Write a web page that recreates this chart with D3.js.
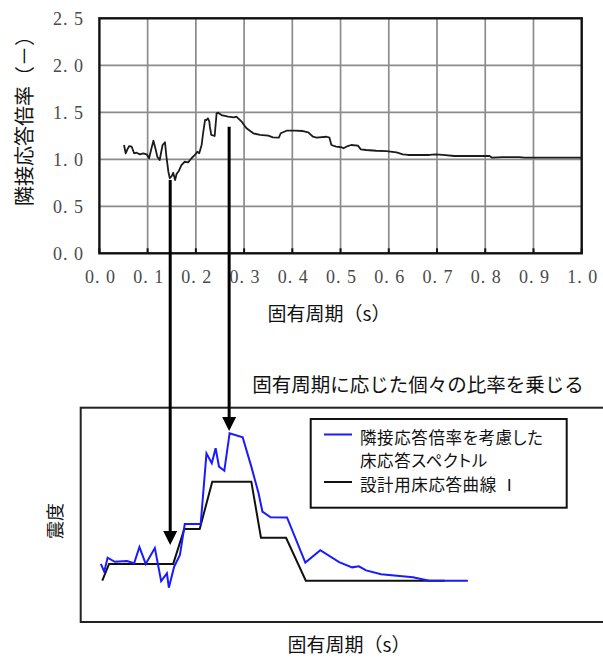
<!DOCTYPE html>
<html>
<head>
<meta charset="utf-8">
<script src="https://cdn.jsdelivr.net/npm/d3@7"></script>
<style>
  body { margin: 0; background: #fff; }
  .jp { font-family: "Noto Sans CJK JP", "Noto Sans", sans-serif; fill: #111; }
  .palt { font-feature-settings: "palt"; }
  .tick-label { font-family: "Liberation Serif", "DejaVu Serif", serif; fill: #4a4a4a; font-size: 18px; letter-spacing: 1px; }
</style>
</head>
<body>
<div id="chart"></div>
<script>
// --- data ---
const xTicks = [0, 0.1, 0.2, 0.3, 0.4, 0.5, 0.6, 0.7, 0.8, 0.9, 1.0];
const xTickLabels = ["0. 0", "0. 1", "0. 2", "0. 3", "0. 4", "0. 5", "0. 6", "0. 7", "0. 8", "0. 9", "1. 0"];
const yTicks = [0, 0.5, 1.0, 1.5, 2.0, 2.5];
const yTickLabels = ["0. 0", "0. 5", "1. 0", "1. 5", "2. 0", "2. 5"];

// adjacent response ratio (top chart)
const topPeriod = [0.051, 0.0545, 0.058, 0.062, 0.067, 0.072, 0.077, 0.084, 0.091, 0.098, 0.103, 0.108, 0.112, 0.117, 0.120, 0.125,
  0.131, 0.136, 0.139, 0.143, 0.146, 0.150, 0.153, 0.157, 0.160, 0.165, 0.170, 0.177, 0.184, 0.191, 0.198, 0.203, 0.207,
  0.212, 0.215, 0.219, 0.222, 0.225, 0.228, 0.229, 0.232, 0.239, 0.243, 0.246, 0.253, 0.267, 0.279, 0.284, 0.295, 0.305,
  0.319, 0.333, 0.350, 0.360, 0.372, 0.376, 0.388, 0.405, 0.422, 0.433, 0.443, 0.450, 0.471, 0.477, 0.481, 0.491, 0.502,
  0.506, 0.515, 0.522, 0.536, 0.542, 0.553, 0.574, 0.595, 0.616, 0.629, 0.640, 0.684, 0.698, 0.712, 0.736, 0.809, 0.814,
  0.836, 0.871, 0.881, 1.0];
const topRatio = [1.152, 1.064, 1.106, 1.141, 1.134, 1.064, 1.070, 1.053, 1.064, 1.053, 1.011, 1.117, 1.198, 1.099, 1.028, 0.993,
  1.152, 1.181, 1.028, 0.868, 0.798, 0.822, 0.857, 0.780, 0.844, 0.879, 0.939, 0.974, 0.968, 1.011, 1.046, 1.081, 1.064,
  1.152, 1.277, 1.418, 1.418, 1.436, 1.400, 1.347, 1.259, 1.248, 1.489, 1.496, 1.471, 1.453, 1.447, 1.453, 1.400, 1.330,
  1.277, 1.259, 1.251, 1.234, 1.230, 1.277, 1.304, 1.304, 1.301, 1.287, 1.240, 1.230, 1.240, 1.230, 1.152, 1.134, 1.128,
  1.117, 1.141, 1.152, 1.145, 1.106, 1.099, 1.091, 1.088, 1.074, 1.053, 1.046, 1.046, 1.053, 1.046, 1.035, 1.035, 1.017,
  1.024, 1.024, 1.017, 1.017];

// design floor response curve I (bottom chart, relative intensity)
const designPeriod = [0.006, 0.020, 0.153, 0.176, 0.208, 0.234, 0.315, 0.335, 0.387, 0.428, 0.716];
const designValue = [0.193, 0.271, 0.271, 0.434, 0.434, 0.655, 0.655, 0.393, 0.393, 0.193, 0.193];

// floor response spectrum with adjacent ratio applied
const adjPeriod = [0.003, 0.010, 0.017, 0.032, 0.057, 0.072, 0.083, 0.096, 0.115, 0.128, 0.140, 0.144, 0.155, 0.167, 0.177,
  0.210, 0.222, 0.233, 0.241, 0.248, 0.259, 0.270, 0.297, 0.315, 0.330, 0.338, 0.355, 0.389, 0.427, 0.458, 0.497, 0.524,
  0.538, 0.553, 0.584, 0.650, 0.684, 0.764];
const adjValue = [0.271, 0.235, 0.300, 0.281, 0.285, 0.274, 0.350, 0.271, 0.345, 0.191, 0.227, 0.160, 0.258, 0.313, 0.457,
  0.457, 0.787, 0.741, 0.811, 0.725, 0.706, 0.881, 0.862, 0.725, 0.601, 0.515, 0.489, 0.488, 0.277, 0.335, 0.279, 0.255,
  0.260, 0.241, 0.223, 0.209, 0.193, 0.193];

// arrows: period, start ratio (top), tip intensity (bottom)
const arrowPeriod = [0.1468, 0.269];
const arrowFrom = [0.78, 1.347];
const arrowTo = [0.359, 0.891];

const legendLabels = [["隣接応答倍率を考慮した", "床応答スペクトル"], ["設計用床応答曲線 Ⅰ"]];
const legendColors = ["#1a1aff", "#111"];

// --- drawing ---
const width = 603, height = 659;
const svg = d3.select("#chart").append("svg")
    .attr("width", width)
    .attr("height", height);

const x = d3.scaleLinear().domain([0, 1]).range([99.4, 581.7]);
const y = d3.scaleLinear().domain([0, 2.5]).range([253.3, 18.3]);
const yB = d3.scaleLinear().domain([0, 1]).range([622, 407.7]);

// top chart grid
const grid = svg.append("g").attr("stroke", "#8c8c8c").attr("stroke-width", 1.7);
grid.selectAll("line.v").data(xTicks.slice(1, -1)).join("line")
    .attr("x1", d => x(d)).attr("x2", d => x(d))
    .attr("y1", y(2.5)).attr("y2", y(0));
grid.selectAll("line.h").data(yTicks.slice(1, -1)).join("line")
    .attr("class", "h")
    .attr("x1", x(0)).attr("x2", x(1))
    .attr("y1", d => y(d)).attr("y2", d => y(d));

// inward ticks on bottom border
svg.append("g").attr("stroke", "#111").attr("stroke-width", 2)
    .selectAll("line").data(xTicks).join("line")
    .attr("x1", d => x(d)).attr("x2", d => x(d))
    .attr("y1", y(0)).attr("y2", y(0) - 5);

svg.append("rect")
    .attr("x", x(0)).attr("y", y(2.5))
    .attr("width", x(1) - x(0)).attr("height", y(0) - y(2.5))
    .attr("fill", "none").attr("stroke", "#111").attr("stroke-width", 2.4);

// tick labels
svg.append("g").selectAll("text").data(xTicks).join("text")
    .attr("class", "tick-label")
    .attr("x", d => x(d) + 1)
    .attr("y", y(0) + 24)
    .attr("text-anchor", "middle")
    .attr("dominant-baseline", "central")
    .text((d, i) => xTickLabels[i]);

svg.append("g").selectAll("text").data(yTicks).join("text")
    .attr("class", "tick-label")
    .attr("x", 84)
    .attr("y", d => y(d) + 1)
    .attr("text-anchor", "end")
    .attr("dominant-baseline", "central")
    .text((d, i) => yTickLabels[i]);

// top curve
const topLine = d3.line().x(d => x(d[0])).y(d => y(d[1]));
svg.append("path")
    .datum(d3.zip(topPeriod, topRatio))
    .attr("fill", "none").attr("stroke", "#1c1c1c").attr("stroke-width", 1.8)
    .attr("stroke-linejoin", "round")
    .attr("d", topLine);

svg.append("text").attr("class", "jp")
    .attr("transform", "translate(23,116) rotate(-90)")
    .attr("text-anchor", "middle").attr("dominant-baseline", "central")
    .attr("font-size", 20)
    .text("隣接応答倍率（－）");

svg.append("text").attr("class", "jp")
    .attr("x", 329).attr("y", 312)
    .attr("text-anchor", "middle").attr("dominant-baseline", "central")
    .attr("font-size", 19)
    .text("固有周期（s）");

svg.append("text").attr("class", "jp")
    .attr("x", 418).attr("y", 383)
    .attr("text-anchor", "middle").attr("dominant-baseline", "central")
    .attr("font-size", 19.5)
    .text("固有周期に応じた個々の比率を乗じる");

// bottom chart box
svg.append("rect")
    .attr("x", 80.7).attr("y", yB(1))
    .attr("width", 540).attr("height", yB(0) - yB(1))
    .attr("fill", "none").attr("stroke", "#222").attr("stroke-width", 2);

const botLine = d3.line().x(d => x(d[0])).y(d => yB(d[1]));
svg.append("path")
    .datum(d3.zip(designPeriod, designValue))
    .attr("fill", "none").attr("stroke", legendColors[1]).attr("stroke-width", 2)
    .attr("d", botLine);
svg.append("path")
    .datum(d3.zip(adjPeriod, adjValue))
    .attr("fill", "none").attr("stroke", legendColors[0]).attr("stroke-width", 2)
    .attr("d", botLine);

// arrows
const arrows = svg.append("g");
arrowPeriod.forEach((p, i) => {
    const ax = x(p), y0 = y(arrowFrom[i]), y1 = yB(arrowTo[i]);
    arrows.append("line")
        .attr("x1", ax).attr("x2", ax).attr("y1", y0).attr("y2", y1 - 10)
        .attr("stroke", "#000").attr("stroke-width", 3);
    arrows.append("path")
        .attr("d", `M${ax - 7},${y1 - 14}L${ax + 7},${y1 - 14}L${ax},${y1}Z`)
        .attr("fill", "#000");
});

// legend
const legend = svg.append("g");
legend.append("rect")
    .attr("x", 310.7).attr("y", 419).attr("width", 256).attr("height", 88.7)
    .attr("fill", "#fff").attr("stroke", "#111").attr("stroke-width", 2);
const legendRows = [436.5, 484];
legendLabels.forEach((lines, i) => {
    legend.append("line")
        .attr("x1", 324).attr("x2", 352)
        .attr("y1", legendRows[i] - 2).attr("y2", legendRows[i] - 2)
        .attr("stroke", legendColors[i]).attr("stroke-width", 2);
    lines.forEach((t, j) => {
        legend.append("text").attr("class", "jp palt")
            .attr("x", 360).attr("y", legendRows[i] + j * 23.5)
            .attr("dominant-baseline", "central")
            .attr("font-size", 16.5)
            .attr("letter-spacing", 0.6)
            .text(t);
    });
});

svg.append("text").attr("class", "jp")
    .attr("transform", "translate(54,521) rotate(-90)")
    .attr("text-anchor", "middle").attr("dominant-baseline", "central")
    .attr("font-size", 18)
    .text("震度");

svg.append("text").attr("class", "jp")
    .attr("x", 349).attr("y", 643)
    .attr("text-anchor", "middle").attr("dominant-baseline", "central")
    .attr("font-size", 19)
    .text("固有周期（s）");
</script>
</body>
</html>
